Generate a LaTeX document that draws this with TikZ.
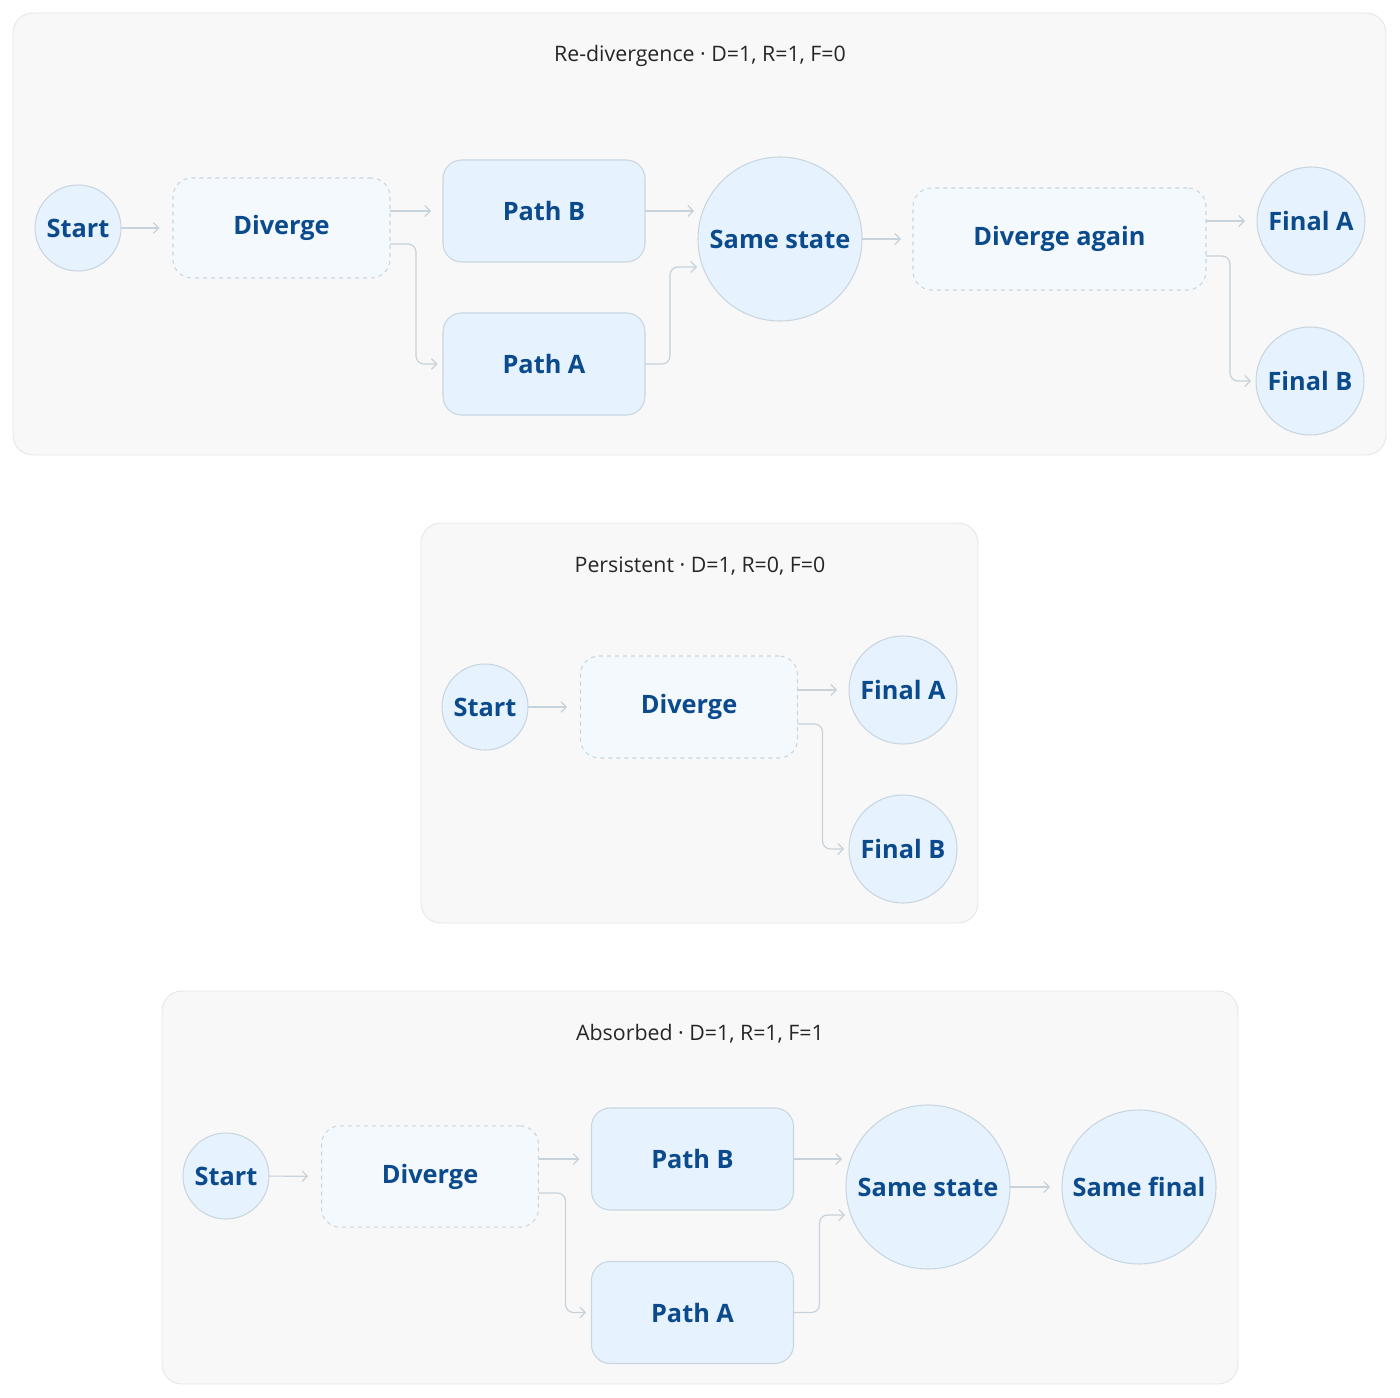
\documentclass[tikz,border=0pt]{standalone}
\usepackage{fontspec}
\setmainfont{Open Sans}
\usepackage{tikz}
\usetikzlibrary{arrows.meta}
\usetikzlibrary{calc}
\usetikzlibrary{positioning}
\definecolor{panelfill}{HTML}{F8F8F8}
\definecolor{paneldraw}{HTML}{E6E6E6}
\definecolor{nodefill}{HTML}{E6F2FD}
\definecolor{nodedraw}{HTML}{C9D6E0}
\definecolor{divfill}{HTML}{F4F9FE}
\definecolor{nodetext}{HTML}{0B4A8C}
\definecolor{edgecol}{HTML}{C8D2DA}
\tikzset{panel/.style={draw=paneldraw,fill=panelfill,rounded corners=15pt,line width=0.7pt}}
\tikzset{basic vertex/.style={draw=nodedraw,fill=nodefill,line width=0.8pt,text=nodetext,font=\fontsize{19}{22}\selectfont\bfseries,inner sep=0pt,outer sep=0pt}}
\tikzset{vertex/.style={basic vertex,circle}}
\tikzset{box/.style={basic vertex,rounded corners=14pt}}
\tikzset{diverge/.style={box,fill=divfill,dashed}}
\tikzset{edge/.style={draw=edgecol,line width=0.9pt,rounded corners=6pt,
                      -{Straight Barb[length=4pt,width=8pt]}}}
\tikzset{title/.style={font=\fontsize{16}{19}\selectfont,text=black!85}}

\begin{document}
\begin{tikzpicture}[x=0.75pt,y=-0.75pt]
    \useasboundingbox (0,0) rectangle (1400,1398);

    % re-divergence
    \draw[panel] (13,13) rectangle (1386,455);
    \node[title] (t1) at (700,56) {Re-divergence · D=1, R=1, F=0};
    \node[vertex,minimum size=64.5pt] (s1) at (78,228) {Start};
    \node[diverge,minimum width=162.75pt,minimum height=75pt] (d1) at (281.5,228) {Diverge};
    \node[box,minimum width=151.5pt,minimum height=76.5pt] (pb1) at (544,211) {Path B};
    \node[box,minimum width=151.5pt,minimum height=76.5pt] (pa1) at (544,364) {Path A};
    \node[vertex,minimum size=123pt] (ss1) at (780,239) {Same state};
    \node[diverge,minimum width=219.75pt,minimum height=76.5pt] (da1) at (1059.5,239) {Diverge again};
    \node[vertex,minimum size=81pt] (fa1) at (1311,221) {Final A};
    \node[vertex,minimum size=81pt] (fb1) at (1310,381) {Final B};

    \draw[edge,shorten >=10pt] (s1) -- (d1);
    \draw[edge,shorten >=9pt] ($(d1.east)+(0,-17)$) -- ($(pb1.west)+(0,0)$);
    \draw[edge,shorten >=4pt] ($(d1.east)+(0,16)$) -- ++(26,0) |- (pa1.west);
    \draw[edge] (pb1.east) -- ($(ss1.west)+(-4,-28)$);
    \draw[edge] (pa1.east) -- ++(25,0) |- ($(ss1.west)+(-1,28)$);
    \draw[edge,shorten >=9pt] (ss1) -- (da1);
    \draw[edge] ($(da1.east)+(0,-18)$) -- ($(fa1.west)+(-12,0)$);
    \draw[edge] ($(da1.east)+(0,17)$) -- ++(24,0) |- ($(fb1.west)+(-5,0)$);

    % persistent
    \draw[panel] (421,523) rectangle (978,923);
    \node[title] (t2) at (700,566) {Persistent · D=1, R=0, F=0};
    \node[vertex,minimum size=64.5pt] (s2) at (485,707) {Start};
    \node[diverge,minimum width=162.75pt,minimum height=76.5pt] (d2) at (689,707) {Diverge};
    \node[vertex,minimum size=81pt] (fa2) at (903,690) {Final A};
    \node[vertex,minimum size=81pt] (fb2) at (903,849) {Final B};

    \draw[edge,shorten >=10pt] (s2) -- (d2);
    \draw[edge] ($(d2.east)+(0,-17)$) -- ($(fa2.west)+(-12,0)$);
    \draw[edge] ($(d2.east)+(0,17)$) -- ++(25,0) |- ($(fb2.west)+(-5,0)$);

    % absorbed
    \draw[panel] (162,991) rectangle (1238,1384);
    \node[title] (t3) at (700,1034) {Absorbed · D=1, R=1, F=1};
    \node[vertex,minimum size=64.5pt] (s3) at (226,1176) {Start};
    \node[diverge,minimum width=162.75pt,minimum height=76pt] (d3) at (430,1176.5) {Diverge};
    \node[box,minimum width=151.5pt,minimum height=76.5pt] (pb3) at (692.5,1159) {Path B};
    \node[box,minimum width=151.5pt,minimum height=76.5pt] (pa3) at (692.5,1312.5) {Path A};
    \node[vertex,minimum size=123pt] (ss3) at (928,1187) {Same state};
    \node[vertex,minimum size=115.5pt] (sf3) at (1139,1187) {Same final};

    \draw[edge,shorten >=10pt] (s3) -- (d3);
    \draw[edge,shorten >=9pt] ($(d3.east)+(0,-17.5)$) -- ($(pb3.west)+(0,0)$);
    \draw[edge,shorten >=4pt] ($(d3.east)+(0,16.5)$) -- ++(27,0) |- (pa3.west);
    \draw[edge] (pb3.east) -- ($(ss3.west)+(-4,-28)$);
    \draw[edge] (pa3.east) -- ++(26,0) |- ($(ss3.west)+(-1,28)$);
    \draw[edge,shorten >=9pt] (ss3) -- (sf3);
\end{tikzpicture}
\end{document}
